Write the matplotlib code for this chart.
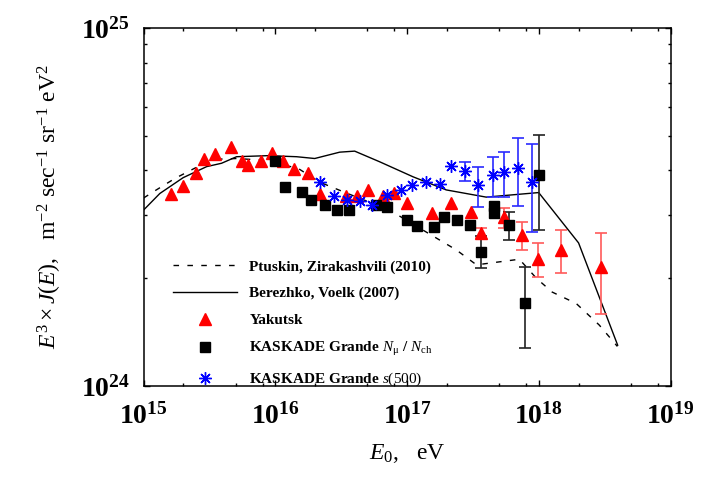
import numpy as np
import matplotlib.pyplot as plt
from matplotlib.ticker import LogLocator, FuncFormatter, NullFormatter

plt.rcParams['font.family'] = 'Liberation Serif'
plt.rcParams['mathtext.fontset'] = 'custom'
plt.rcParams['mathtext.rm'] = 'Liberation Serif'
plt.rcParams['mathtext.it'] = 'Liberation Serif:italic'
plt.rcParams['mathtext.bf'] = 'Liberation Serif:bold'

# Ptuskin, Zirakashvili (2010) model
pz_E = [1.0e15, 1.19e15, 1.73e15, 2.45e15, 3.59e15, 5.08e15, 7.63e15, 1.48e16, 2.17e16,
        3.46e16, 7.36e16, 1.31e17, 2.36e17, 3.36e17, 7.11e17, 9.57e17, 1.26e18, 1.92e18,
        2.87e18, 3.94e18]
pz_J = [3.35, 3.49, 3.80, 4.06, 4.30, 4.32, 4.28, 4.06, 3.71, 3.46, 3.10, 2.73, 2.40, 2.18,
        2.26, 2.00, 1.83, 1.70, 1.48, 1.29]

# Berezhko, Voelk (2007) model
bv_E = [1.0e15, 1.33e15, 2.00e15, 3.01e15, 3.91e15, 5.08e15, 8.81e15, 1.45e16, 1.99e16,
        3.08e16, 4.00e16, 6.19e16, 1.11e17, 1.98e17, 3.98e17, 9.96e17, 2.00e18, 3.96e18]
bv_J = [3.10, 3.45, 3.82, 4.10, 4.19, 4.37, 4.40, 4.37, 4.32, 4.50, 4.53, 4.23, 3.84, 3.53,
        3.37, 3.47, 2.51, 1.30]

# Yakutsk
nan = np.nan
yak_E = [1.61e15, 1.98e15, 2.50e15, 2.89e15, 3.48e15, 4.58e15, 5.60e15, 6.22e15, 7.73e15,
         9.46e15, 1.135e16, 1.38e16, 1.77e16, 2.17e16, 3.46e16, 4.20e16, 5.05e16, 6.56e16,
         7.91e16, 9.95e16, 1.55e17, 2.16e17, 3.06e17, 3.66e17, 5.48e17, 7.43e17, 9.91e17,
         1.47e18, 2.96e18]
yak_J = [3.43, 3.63, 3.93, 4.32, 4.44, 4.65, 4.25, 4.14, 4.25, 4.47, 4.25, 4.04, 3.94, 3.43,
         3.40, 3.40, 3.53, 3.40, 3.45, 3.25, 3.05, 3.25, 3.07, 2.67, 2.97, 2.64, 2.27, 2.40, 2.15]
yak_lo = [nan] * 23 + [2.59, 2.76, 2.40, 2.02, 2.07, 1.585]
yak_hi = [nan] * 23 + [2.76, 3.14, 2.88, 2.51, 2.72, 2.67]

# KASKADE Grande N_mu / N_ch
kg_E = [9.91e15, 1.19e16, 1.58e16, 1.88e16, 2.39e16, 2.96e16, 3.64e16, 5.77e16, 7.05e16,
        9.95e16, 1.19e17, 1.59e17, 1.89e17, 2.38e17, 2.98e17, 3.65e17, 4.60e17, 4.60e17,
        5.98e17, 7.91e17, 9.96e17]
kg_J = [4.25, 3.60, 3.49, 3.31, 3.20, 3.10, 3.11, 3.20, 3.17, 2.91, 2.79, 2.78, 2.97, 2.91,
        2.81, 2.37, 3.19, 3.05, 2.82, 1.705, 3.88]
kg_lo = [nan] * 15 + [2.13, nan, nan, 2.56, 1.275, 2.72]
kg_hi = [nan] * 15 + [2.62, nan, nan, 3.07, 2.15, 5.02]

# KASKADE Grande s(500)
s5_E = [2.19e16, 2.77e16, 3.50e16, 4.40e16, 5.38e16, 7.0e16, 8.93e16, 1.09e17, 1.39e17,
        1.78e17, 2.17e17, 2.77e17, 3.46e17, 4.47e17, 5.48e17, 6.90e17, 8.88e17]
s5_J = [3.71, 3.40, 3.31, 3.29, 3.20, 3.42, 3.53, 3.65, 3.72, 3.67, 4.12, 3.99, 3.64, 3.88,
        3.95, 4.07, 3.71]
s5_lo = [nan] * 11 + [3.74, 3.17, 3.37, 3.38, 3.18, 2.70]
s5_hi = [nan] * 11 + [4.23, 4.10, 4.37, 4.50, 4.94, 4.73]

scale = 1e24


def with_err(E, J, lo, hi):
    E, J, lo, hi = map(np.asarray, (E, J, lo, hi))
    m = np.isfinite(lo)
    J = J * scale
    return E[m], J[m], np.vstack([J[m] - lo[m] * scale, hi[m] * scale - J[m]])


fig = plt.figure(figsize=(7.06, 4.94), dpi=100)
ax = fig.add_axes([0.2033, 0.2186, 0.7467, 0.7247])

h_pz, = ax.plot(pz_E, np.array(pz_J) * scale, color='black', lw=1.0, ls=(0, (4, 6)))
h_bv, = ax.plot(bv_E, np.array(bv_J) * scale, color='black', lw=1.0)

e, j, err = with_err(yak_E, yak_J, yak_lo, yak_hi)
ax.errorbar(e, j, yerr=err, fmt='none', ecolor='#ff5a5a', elinewidth=1.2, capsize=4, capthick=1.2)
e, j, err = with_err(kg_E, kg_J, kg_lo, kg_hi)
ax.errorbar(e, j, yerr=err, fmt='none', ecolor='#222222', elinewidth=1.2, capsize=4, capthick=1.2)
e, j, err = with_err(s5_E, s5_J, s5_lo, s5_hi)
ax.errorbar(e, j, yerr=err, fmt='none', ecolor='#2a2aff', elinewidth=1.2, capsize=4, capthick=1.2)

h_yak, = ax.plot(yak_E, np.array(yak_J) * scale, ls='none', marker='^', ms=9,
                 color='#ff0000', mec='#ff0000')
h_kg, = ax.plot(kg_E, np.array(kg_J) * scale, ls='none', marker='s', ms=6.5,
                color='black', mec='black')
h_s5, = ax.plot(s5_E, np.array(s5_J) * scale, ls='none', marker=(8, 2, 0), ms=9,
                color='#0000ff', mew=1.0)

ax.set_xscale('log')
ax.set_yscale('log')
ax.set_xlim(1e15, 1e19)
ax.set_ylim(1e24, 1e25)

fmt = FuncFormatter(lambda v, pos: r'$\mathbf{10^{%d}}$' % round(np.log10(v)))
ax.xaxis.set_major_locator(LogLocator(base=10, numticks=10))
ax.xaxis.set_minor_locator(LogLocator(base=10, subs=(2, 5, 8), numticks=20))
ax.yaxis.set_major_locator(LogLocator(base=10, numticks=10))
ax.yaxis.set_minor_locator(LogLocator(base=10, subs=np.arange(2, 10), numticks=20))
ax.xaxis.set_major_formatter(fmt)
ax.yaxis.set_major_formatter(fmt)
ax.xaxis.set_minor_formatter(NullFormatter())
ax.yaxis.set_minor_formatter(NullFormatter())
ax.tick_params(which='both', direction='in', top=True, right=True, width=1.0)
ax.tick_params(which='major', length=4.5, labelsize=20)
ax.tick_params(axis='x', which='major', pad=12)
ax.tick_params(axis='y', which='major', pad=10)
ax.tick_params(which='minor', length=2.5)
for s in ax.spines.values():
    s.set_linewidth(1.1)

ax.set_xlabel(r'$E_0$,   eV', fontsize=17, labelpad=9)
ax.set_ylabel(r'$E^3 \times J(E)$,   m$^{-2}$ sec$^{-1}$ sr$^{-1}$ eV$^2$', fontsize=17, labelpad=12)

ax.legend([h_pz, h_bv, h_yak, h_kg, h_s5],
          ['Ptuskin, Zirakashvili (2010)', 'Berezhko, Voelk (2007)', 'Yakutsk',
           r'KASKADE Grande $N_\mathrm{\mu}$ / $N_\mathrm{ch}$',
           r'KASKADE Grande $s\mathrm{(500)}$'],
          loc='lower left', bbox_to_anchor=(0.03, -0.045), frameon=False,
          prop={'family': 'Liberation Serif', 'weight': 'bold', 'size': 11},
          handlelength=4.2, handletextpad=0.8, labelspacing=0.85, numpoints=1)

fig.savefig('out.png', dpi=100)
